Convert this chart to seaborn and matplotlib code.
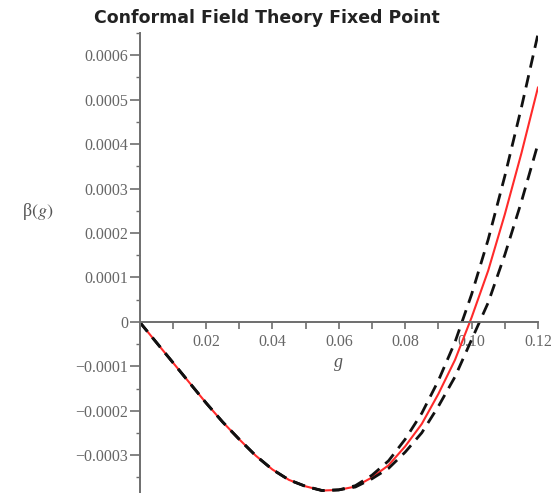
import matplotlib
matplotlib.use("Agg")
import matplotlib.pyplot as plt
import seaborn as sns
import pandas as pd
from matplotlib.ticker import FixedLocator, FixedFormatter, MultipleLocator

# ---- data ----
g_vals = [0.0, 0.005, 0.01, 0.015, 0.02, 0.025, 0.03, 0.035, 0.04, 0.045,
          0.05, 0.055, 0.06, 0.065, 0.07, 0.075, 0.08, 0.085, 0.09, 0.095,
          0.10, 0.105, 0.11, 0.115, 0.12]
beta_central = [0.0, -0.0000455, -0.000091, -0.0001365, -0.000182, -0.000225,
                -0.000264, -0.000301, -0.000332, -0.0003555, -0.00037,
                -0.0003795, -0.000378, -0.0003705, -0.00035, -0.0003225,
                -0.00028, -0.0002295, -0.000162, -0.0000855, 0.00001,
                0.0001155, 0.000242, 0.0003795, 0.000528]
beta_upper = [0.0, -0.0000455, -0.000091, -0.0001365, -0.000182, -0.000225,
              -0.000264, -0.000301, -0.000332, -0.0003555, -0.00037,
              -0.0003795, -0.000378, -0.0003685, -0.000345, -0.0003125,
              -0.000264, -0.0002055, -0.000132, -0.0000455, 0.000062,
              0.0001855, 0.000328, 0.0004825, 0.000648]
beta_lower = [0.0, -0.0000455, -0.000091, -0.0001365, -0.000182, -0.000225,
              -0.000264, -0.000301, -0.000332, -0.0003555, -0.00037,
              -0.0003795, -0.000378, -0.0003715, -0.000353, -0.0003295,
              -0.000293, -0.0002495, -0.00019, -0.0001235, -0.00004,
              0.0000435, 0.000151, 0.0002705, 0.000401]

x_ticks = [0.02, 0.04, 0.06, 0.08, 0.10, 0.12]
x_tick_labels = ["0.02", "0.04", "0.06", "0.08", "0.10", "0.12"]
y_ticks = [-0.0003, -0.0002, -0.0001, 0.0, 0.0001, 0.0002, 0.0003, 0.0004, 0.0005, 0.0006]
y_tick_labels = ["\u22120.0003", "\u22120.0002", "\u22120.0001", "0", "0.0001",
                 "0.0002", "0.0003", "0.0004", "0.0005", "0.0006"]
title = "Conformal Field Theory Fixed Point"

df = pd.DataFrame({"g": g_vals, "central": beta_central,
                   "upper": beta_upper, "lower": beta_lower})

sns.set_style("white")
plt.rcParams["font.family"] = ["Liberation Serif", "DejaVu Serif"]
plt.rcParams["mathtext.fontset"] = "stix"

fig = plt.figure(figsize=(5.55, 4.93), dpi=100)
ax = fig.add_axes([0.2514, 0.0, 0.718, 0.933])

sns.lineplot(data=df, x="g", y="central", ax=ax, color="#ff2a2a", lw=1.5)
sns.lineplot(data=df, x="g", y="upper", ax=ax, color="#111111", lw=2.0,
             linestyle=(0, (4.5, 2.8)))
sns.lineplot(data=df, x="g", y="lower", ax=ax, color="#111111", lw=2.0,
             linestyle=(0, (4.5, 2.8)))

ax.set_xlim(0, 0.12)
ax.set_ylim(-0.000385, 0.00065)

axis_col = "#6e6e6e"
for s in ["top", "right"]:
    ax.spines[s].set_visible(False)
ax.spines["left"].set_position(("data", 0))
ax.spines["bottom"].set_position(("data", 0))
for s in ["left", "bottom"]:
    ax.spines[s].set_color(axis_col)
    ax.spines[s].set_linewidth(1.4)

ax.xaxis.set_major_locator(FixedLocator(x_ticks))
ax.xaxis.set_major_formatter(FixedFormatter(x_tick_labels))
ax.xaxis.set_minor_locator(MultipleLocator(0.01))
ax.yaxis.set_major_locator(FixedLocator(y_ticks))
ax.yaxis.set_major_formatter(FixedFormatter(y_tick_labels))
ax.yaxis.set_minor_locator(MultipleLocator(0.00005))

ax.tick_params(axis="x", which="both", direction="out", length=5, width=1.2,
               colors=axis_col, labelcolor="#666666", labelsize=11.5, pad=4,
               bottom=True)
ax.tick_params(axis="y", which="major", direction="out", length=7, width=1.2,
               colors=axis_col, labelcolor="#666666", labelsize=11.5, pad=1,
               left=True)
ax.tick_params(axis="y", which="minor", direction="out", length=3, width=1.0,
               colors=axis_col, left=True)

ax.set_xlabel("")
ax.set_ylabel("")
ax.text(0.06, -0.000092, "g", style="italic", fontsize=13, color="#555555",
        ha="center", va="center")
fig.text(0.068, 0.57, r"$\mathregular{\beta}(g)$", fontsize=13, color="#555555",
         ha="center", va="center")

fig.text(0.48, 0.963, title, fontsize=12.5, fontweight="bold",
         family=["DejaVu Sans"], color="#222222", ha="center", va="center")

fig.savefig("out.png", dpi=100)
